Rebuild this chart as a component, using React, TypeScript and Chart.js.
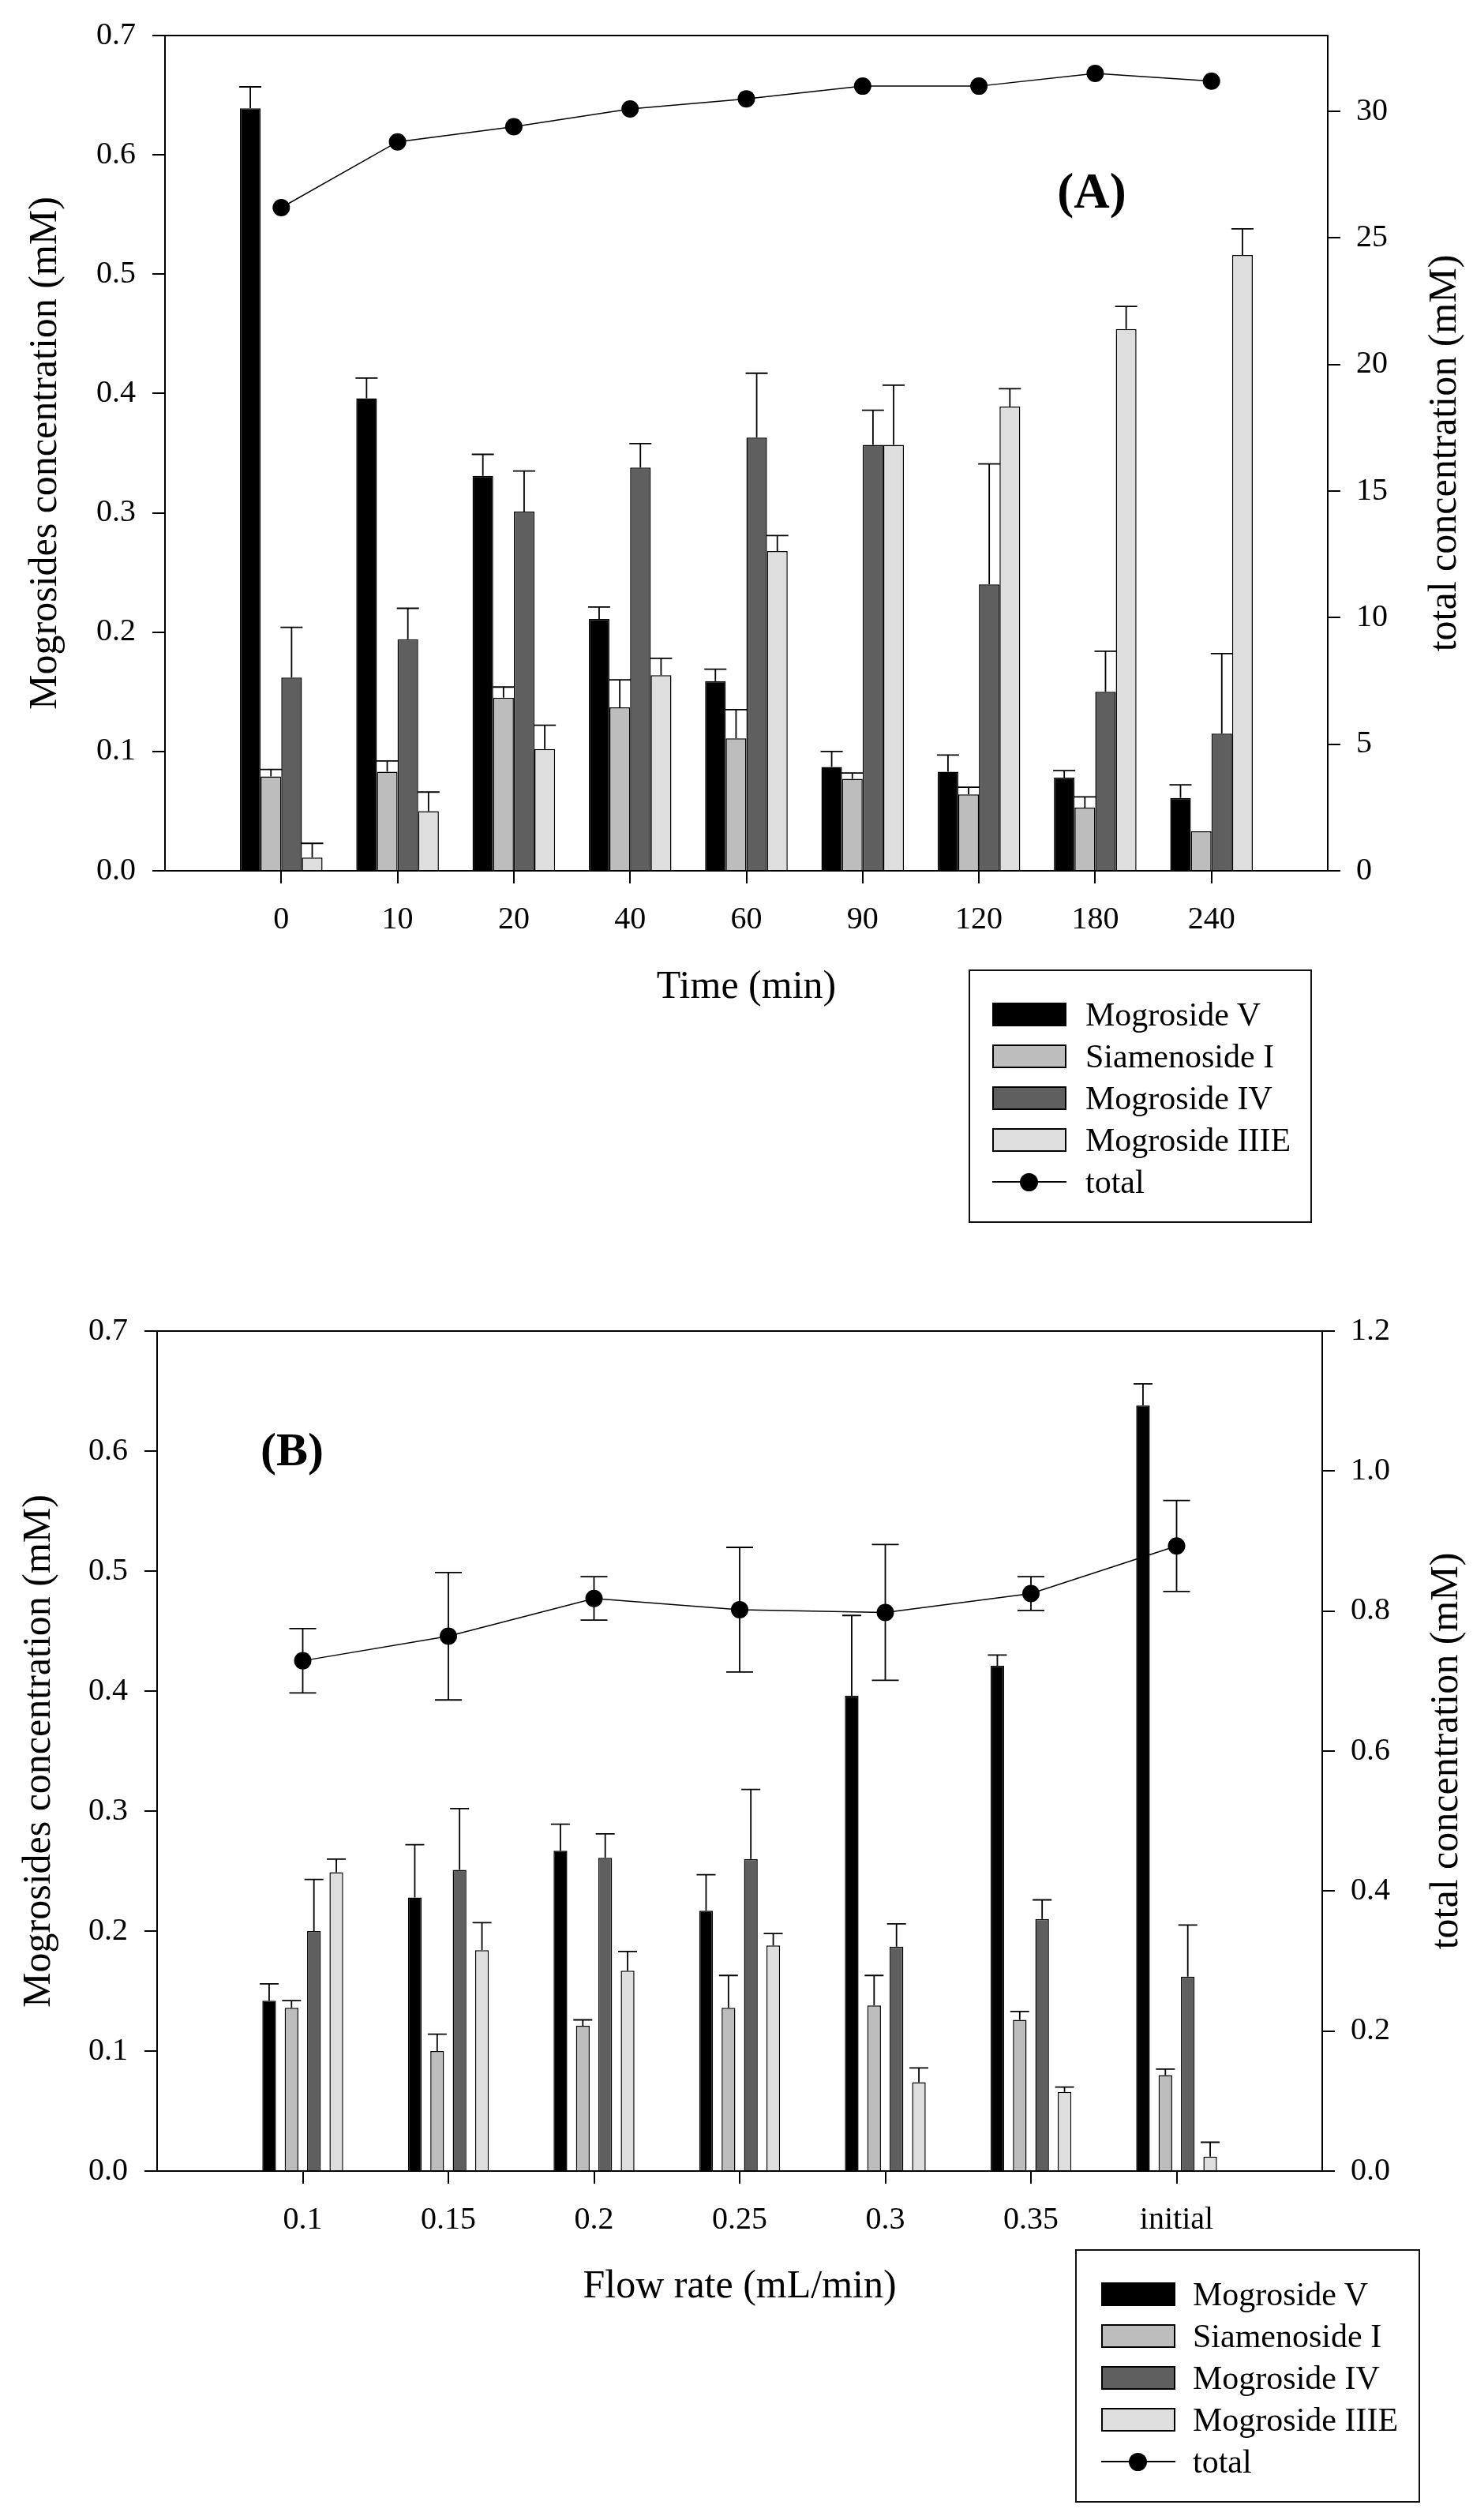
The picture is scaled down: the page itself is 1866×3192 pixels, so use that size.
import { useEffect, useRef } from 'react'
import { Chart, registerables } from 'chart.js'
Chart.register(...registerables)

const FONT = "'Liberation Serif', 'Times New Roman', serif"

const seriesNames = ['Mogroside V', 'Siamenoside I', 'Mogroside IV', 'Mogroside IIIE']
const seriesColors = ['#000000', '#bdbdbd', '#5f5f5f', '#dedede']
const totalName = 'total'

// (A) time course
const timeLabels = ['0', '10', '20', '40', '60', '90', '120', '180', '240']
const timeMogV = [0.639, 0.396, 0.331, 0.211, 0.159, 0.087, 0.083, 0.078, 0.061]
const timeMogVErr = [0.018, 0.017, 0.018, 0.010, 0.010, 0.013, 0.014, 0.006, 0.011]
const timeSiamI = [0.079, 0.083, 0.145, 0.137, 0.111, 0.077, 0.064, 0.053, 0.033]
const timeSiamIErr = [0.006, 0.009, 0.009, 0.023, 0.024, 0.005, 0.006, 0.009, 0]
const timeMogIV = [0.162, 0.194, 0.301, 0.338, 0.363, 0.357, 0.240, 0.150, 0.115]
const timeMogIVErr = [0.042, 0.026, 0.034, 0.020, 0.054, 0.029, 0.101, 0.034, 0.067]
const timeMogIIIE = [0.011, 0.050, 0.102, 0.164, 0.268, 0.357, 0.389, 0.454, 0.516]
const timeMogIIIEErr = [0.012, 0.016, 0.020, 0.014, 0.013, 0.050, 0.015, 0.019, 0.022]
const timeTotal = [26.2, 28.8, 29.4, 30.1, 30.5, 31.0, 31.0, 31.5, 31.2]
const timeTotalErr = [0.05, 0.05, 0.05, 0.05, 0.1, 0.1, 0.15, 0.05, 0.15]

// (B) flow rate
const flowLabels = ['0.1', '0.15', '0.2', '0.25', '0.3', '0.35', 'initial']
const flowMogV = [0.142, 0.228, 0.267, 0.217, 0.396, 0.421, 0.638]
const flowMogVErr = [0.014, 0.044, 0.022, 0.030, 0.067, 0.009, 0.018]
const flowSiamI = [0.136, 0.100, 0.121, 0.136, 0.138, 0.126, 0.080]
const flowSiamIErr = [0.006, 0.014, 0.005, 0.027, 0.025, 0.007, 0.005]
const flowMogIV = [0.200, 0.251, 0.261, 0.260, 0.187, 0.210, 0.162]
const flowMogIVErr = [0.043, 0.051, 0.020, 0.058, 0.019, 0.016, 0.043]
const flowMogIIIE = [0.249, 0.184, 0.167, 0.188, 0.074, 0.066, 0.012]
const flowMogIIIEErr = [0.011, 0.023, 0.016, 0.010, 0.012, 0.004, 0.012]
const flowTotal = [0.729, 0.764, 0.818, 0.802, 0.798, 0.825, 0.893]
const flowTotalErr = [0.046, 0.091, 0.031, 0.089, 0.097, 0.024, 0.065]

// empty slot at both ends so the groups sit at 1..n of n+1
const pad = (a: any[]) => [null, ...a, null]

const errorBars = {
  id: 'errorBars',
  afterDatasetsDraw(chart: any) {
    const ctx = chart.ctx
    chart.data.datasets.forEach((ds: any, i: number) => {
      if (!ds.errors) return
      const meta = chart.getDatasetMeta(i)
      const sc = chart.scales[meta.yAxisID]
      ctx.save()
      ctx.strokeStyle = '#000'
      ctx.lineWidth = 1.8
      meta.data.forEach((el: any, j: number) => {
        const v = ds.data[j], e = ds.errors[j]
        if (v == null || !e) return
        const hi = sc.getPixelForValue(v + e)
        const isLine = ds.type === 'line'
        const lo = isLine ? sc.getPixelForValue(v - e) : el.y
        const h = ds.capHalf
        ctx.beginPath()
        ctx.moveTo(el.x, lo); ctx.lineTo(el.x, hi)
        ctx.moveTo(el.x - h, hi); ctx.lineTo(el.x + h, hi)
        if (isLine) { ctx.moveTo(el.x - h, lo); ctx.lineTo(el.x + h, lo) }
        ctx.stroke()
      })
      ctx.restore()
    })
  },
}

const deco = {
  id: 'deco',
  afterDraw(chart: any, _a: any, o: any) {
    const { ctx, chartArea: a } = chart
    ctx.save()
    ctx.strokeStyle = '#000'
    ctx.lineWidth = 2
    ctx.beginPath(); ctx.moveTo(a.left, a.top); ctx.lineTo(a.right, a.top); ctx.stroke()
    ctx.fillStyle = '#000'
    ctx.textAlign = 'center'
    ctx.textBaseline = 'middle'
    ctx.font = `bold ${o.labelSize}px ${FONT}`
    ctx.fillText(o.label, o.labelX, o.labelY)
    ctx.font = `50px ${FONT}`
    ctx.translate(o.rightTitleX, (a.top + a.bottom) / 2)
    ctx.rotate(-Math.PI / 2)
    ctx.fillText(o.rightTitle, 0, 0)
    ctx.restore()
  },
}

const tickFont = { family: FONT, size: 40 }
const titleFont = { family: FONT, size: 50 }
const axisGrid = { display: true, drawOnChartArea: false, drawTicks: true, tickLength: 16, color: '#000', lineWidth: 2, offset: false }
const axisBorder = { display: true, color: '#000', width: 2 }

function Panel(p: any) {
  const ref = useRef<HTMLCanvasElement>(null)
  useEffect(() => {
    if (!ref.current) return
    const datasets: any[] = [
      {
        type: 'line', label: totalName, data: pad(p.total), errors: pad(p.totalErr), capHalf: p.totalCap,
        yAxisID: 'y2', borderColor: '#000', borderWidth: 1.5, pointRadius: 11, pointBackgroundColor: '#000',
        pointBorderColor: '#000', pointBorderWidth: 0, tension: 0, order: 0,
      },
      ...p.bars.map((v: number[], i: number) => ({
        type: 'bar', label: seriesNames[i], data: pad(v), errors: pad(p.errs[i]), capHalf: p.barCap,
        yAxisID: 'y', backgroundColor: seriesColors[i], borderColor: '#000', borderWidth: 1.5,
        barPercentage: p.barPct, categoryPercentage: p.catPct, order: 1,
      })),
    ]
    const chart = new Chart(ref.current, {
      type: 'bar',
      data: { labels: pad(p.labels).map(l => l ?? ''), datasets },
      options: {
        responsive: false, animation: false, devicePixelRatio: 1,
        layout: { padding: { top: p.areaTop - p.top, left: 0, right: 0, bottom: 0 } },
        plugins: {
          legend: { display: false }, tooltip: { enabled: false },
          deco: { label: p.label, labelSize: p.labelSize, labelX: p.labelX, labelY: p.labelY, rightTitle: 'total concentration (mM)', rightTitleX: p.rightTitleX },
        } as any,
        scales: {
          x: {
            type: 'category', offset: false, grid: axisGrid, border: axisBorder,
            ticks: { autoSkip: false, maxRotation: 0, padding: 22, color: '#000', font: tickFont },
            title: { display: true, text: p.xTitle, color: '#000', font: titleFont, padding: { top: 0, bottom: p.xTitlePad } },
            afterBuildTicks: (sc: any) => { sc.ticks = sc.ticks.slice(1, -1) },
            afterFit: (sc: any) => { sc.height = p.top + p.height - p.areaBottom },
          },
          y: {
            position: 'left', min: 0, max: 0.7, grid: axisGrid, border: axisBorder,
            ticks: { stepSize: 0.1, padding: 21, color: '#000', font: tickFont, callback: (v: any) => Number(v).toFixed(1) },
            title: { display: true, text: 'Mogrosides concentration (mM)', color: '#000', font: titleFont, padding: { top: p.yTitlePad, bottom: 0 } },
            afterFit: (sc: any) => { sc.width = p.areaLeft },
          },
          y2: {
            position: 'right', min: 0, max: p.rightMax, grid: axisGrid, border: axisBorder,
            ticks: { stepSize: p.rightStep, includeBounds: false, padding: 20, color: '#000', font: tickFont, callback: (v: any) => Number(v).toFixed(p.rightDigits) },
            afterFit: (sc: any) => { sc.width = 1866 - p.areaRight },
          },
        } as any,
      },
      plugins: [errorBars, deco],
    } as any)
    return () => chart.destroy()
  }, [])
  return <canvas ref={ref} width={1866} height={p.height} style={{ position: 'absolute', left: 0, top: p.top, width: 1866, height: p.height }} />
}

function Legend(p: any) {
  const rowStyle = (k: number): any => ({ position: 'absolute', left: 0, top: p.firstRow + k * p.rowGap - 25, height: 50, width: '100%', display: 'flex', alignItems: 'center' })
  return (
    <div style={{ position: 'absolute', left: p.left, top: p.top, width: p.width, height: p.height, border: '2px solid #111', boxSizing: 'border-box' }}>
      {seriesNames.map((n, k) => (
        <div key={n} style={rowStyle(k)}>
          <div style={{ position: 'absolute', left: p.swatchLeft, width: 94, height: 30, background: seriesColors[k], border: '2px solid #000', boxSizing: 'border-box' }} />
          <div style={{ position: 'absolute', left: p.textLeft, fontSize: 42, lineHeight: '50px', color: '#000' }}>{n}</div>
        </div>
      ))}
      <div style={rowStyle(4)}>
        <div style={{ position: 'absolute', left: p.swatchLeft, width: 94, height: 2, top: 24, background: '#000' }} />
        <div style={{ position: 'absolute', left: p.swatchLeft + 35, width: 23, height: 23, top: 13.5, borderRadius: '50%', background: '#000' }} />
        <div style={{ position: 'absolute', left: p.textLeft, fontSize: 42, lineHeight: '50px', color: '#000' }}>{totalName}</div>
      </div>
    </div>
  )
}

export default function App() {
  return (
    <div style={{ position: 'absolute', left: 0, top: 0, width: 1866, height: 3192, background: '#fff', fontFamily: FONT, overflow: 'hidden' }}>
      <Panel
        top={0} height={1300} areaTop={39} areaBottom={1103} areaLeft={209} areaRight={1682}
        labels={timeLabels}
        bars={[timeMogV, timeSiamI, timeMogIV, timeMogIIIE]}
        errs={[timeMogVErr, timeSiamIErr, timeMogIVErr, timeMogIIIEErr]}
        total={timeTotal} totalErr={timeTotalErr}
        rightMax={33} rightStep={5} rightDigits={0}
        catPct={0.71} barPct={1} barCap={14} totalCap={9}
        xTitle="Time (min)" xTitlePad={19} yTitlePad={28}
        label="(A)" labelSize={63} labelX={1383} labelY={247} rightTitleX={1831}
      />
      <Panel
        top={1600} height={1330} areaTop={1686} areaBottom={2750} areaLeft={199} areaRight={1675}
        labels={flowLabels}
        bars={[flowMogV, flowSiamI, flowMogIV, flowMogIIIE]}
        errs={[flowMogVErr, flowSiamIErr, flowMogIVErr, flowMogIIIEErr]}
        total={flowTotal} totalErr={flowTotalErr}
        rightMax={1.2} rightStep={0.2} rightDigits={1}
        catPct={0.615} barPct={0.61} barCap={12} totalCap={17}
        xTitle="Flow rate (mL/min)" xTitlePad={3} yTitlePad={20}
        label="(B)" labelSize={60} labelX={370} labelY={240} rightTitleX={1833}
      />
      <Legend left={1227} top={1228} width={435} height={321} firstRow={55} rowGap={53} swatchLeft={28} textLeft={146} />
      <Legend left={1362} top={2849} width={437} height={321} firstRow={55} rowGap={53} swatchLeft={31} textLeft={147} />
    </div>
  )
}
